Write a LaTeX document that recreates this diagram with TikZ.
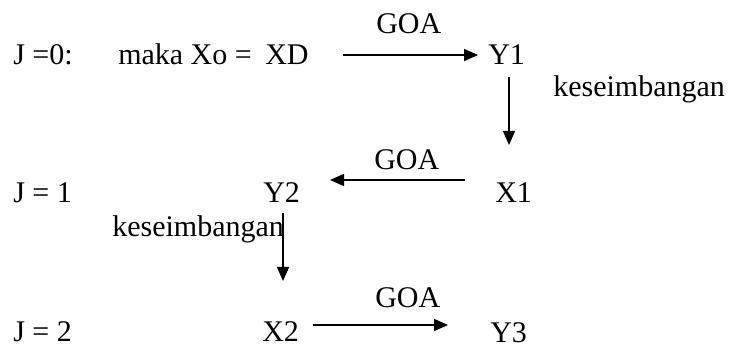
\documentclass[tikz,border=0pt]{standalone}
\usepackage{fontspec}
\setmainfont{Liberation Serif}
\usetikzlibrary{arrows.meta}
\begin{document}
\begin{tikzpicture}[x=0.75pt,y=-0.75pt,
  lbl/.style={anchor=base west,inner sep=0pt,font=\fontsize{22.5}{27}\selectfont},
  arr/.style={line width=1.1pt,-{Triangle[length=10.5pt,width=9pt]}}]
\useasboundingbox (0,0) rectangle (731,348);
% row J=0
\node[lbl] (j0) at (13,65) {J =0:};
\node[lbl] (maka) at (118,65) {maka Xo =};
\node[lbl] (xd) at (265,65) {XD};
\node[lbl] (goa1) at (376,34) {GOA};
\node[lbl] (y1) at (488,65) {Y1};
\node[lbl] (kes1) at (553,97) {keseimbangan};
% row J=1
\node[lbl] (j1) at (13,203) {J = 1};
\node[lbl] (y2) at (263,203) {Y2};
\node[lbl] (goa2) at (374,170) {GOA};
\node[lbl] (x1) at (495,203) {X1};
\node[lbl] (kes2) at (112,237) {keseimbangan};
% row J=2
\node[lbl] (j2) at (13,342) {J = 2};
\node[lbl] (x2) at (262,342) {X2};
\node[lbl] (goa3) at (375,308) {GOA};
\node[lbl] (y3) at (490,343) {Y3};
% arrow ends
\coordinate (a1s) at (343,55);
\coordinate (a1e) at (478,55);
\coordinate (v1s) at (509,77);
\coordinate (v1e) at (509,145);
\coordinate (a2s) at (465,180);
\coordinate (a2e) at (330,180);
\coordinate (v2s) at (283,213);
\coordinate (v2e) at (283,281);
\coordinate (a3s) at (313,325);
\coordinate (a3e) at (448,325);
\draw[arr] (a1s) -- (a1e);
\draw[arr] (v1s) -- (v1e);
\draw[arr] (a2s) -- (a2e);
\draw[arr] (v2s) -- (v2e);
\draw[arr] (a3s) -- (a3e);
\end{tikzpicture}
\end{document}
